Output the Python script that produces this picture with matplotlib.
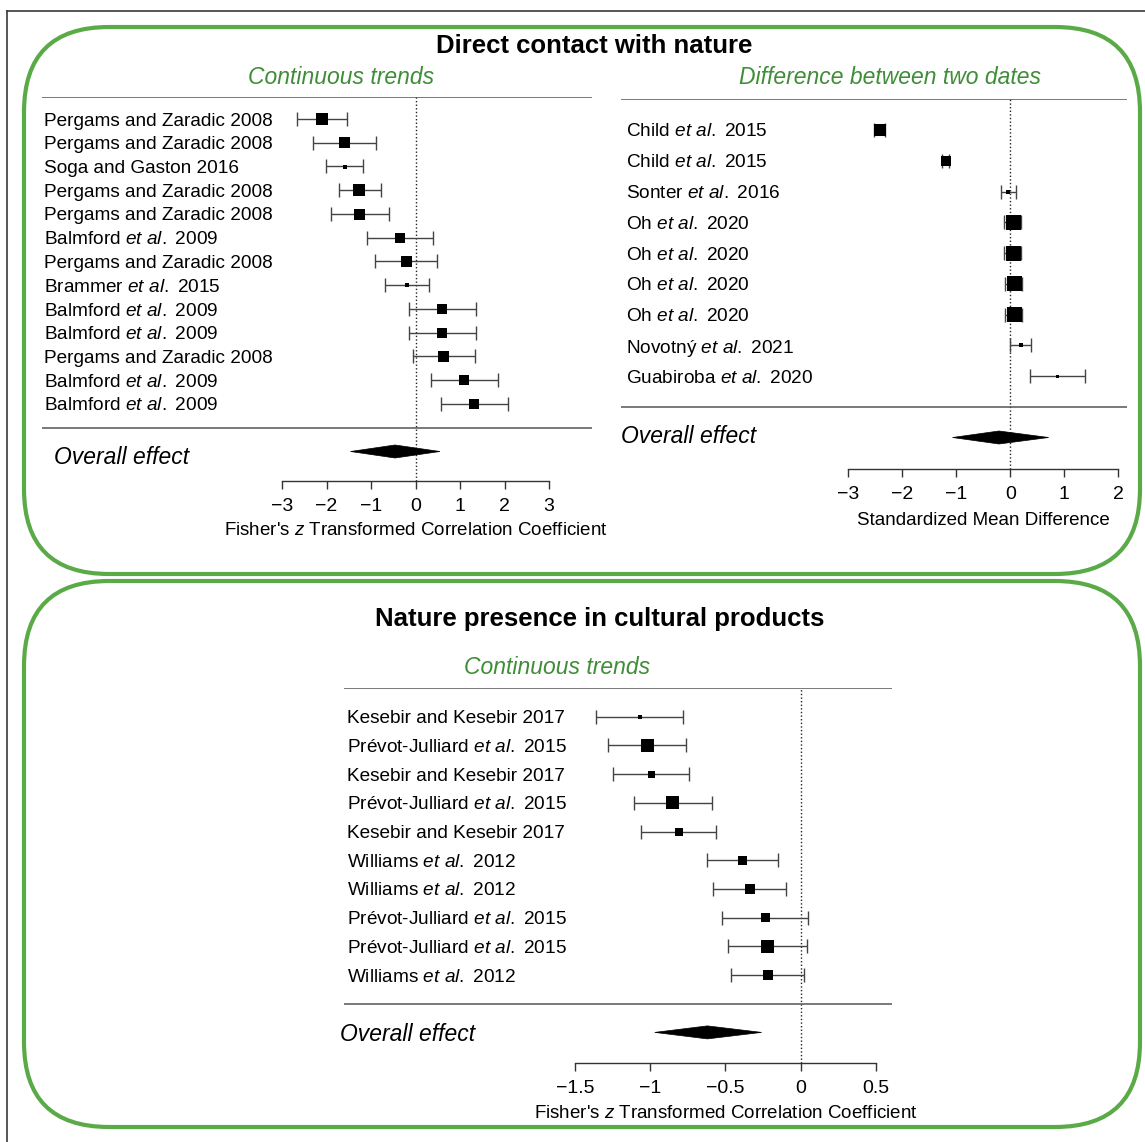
import matplotlib
matplotlib.use('Agg')
import matplotlib.pyplot as plt
import matplotlib.transforms as mtransforms
from matplotlib.patches import FancyBboxPatch, Polygon
import numpy as np

plt.rcParams['font.family'] = ['Liberation Sans', 'DejaVu Sans']
plt.rcParams['mathtext.fontset'] = 'custom'
plt.rcParams['mathtext.rm'] = 'Liberation Sans'
plt.rcParams['mathtext.it'] = 'Liberation Sans:italic'

ET = r'$\mathit{et\ al.}$'

# --- Direct contact with nature: continuous trends (Fisher's z) ---
labels_a = ['Pergams and Zaradic 2008', 'Pergams and Zaradic 2008', 'Soga and Gaston 2016',
            'Pergams and Zaradic 2008', 'Pergams and Zaradic 2008', f'Balmford {ET} 2009',
            'Pergams and Zaradic 2008', f'Brammer {ET} 2015', f'Balmford {ET} 2009',
            f'Balmford {ET} 2009', 'Pergams and Zaradic 2008', f'Balmford {ET} 2009',
            f'Balmford {ET} 2009']
est_a = [-2.11, -1.59, -1.59, -1.26, -1.26, -0.35, -0.21, -0.20, 0.60, 0.60, 0.64, 1.10, 1.32]
lo_a = [-2.67, -2.30, -2.01, -1.73, -1.91, -1.09, -0.91, -0.69, -0.14, -0.14, -0.06, 0.35, 0.57]
hi_a = [-1.53, -0.89, -1.17, -0.78, -0.60, 0.40, 0.49, 0.31, 1.36, 1.36, 1.34, 1.85, 2.07]
weight_a = [12, 11, 4, 12, 11, 10, 11, 4, 10, 10, 11, 10, 10]
overall_a = (-0.46, -1.46, 0.55)
ticks_a = [-3, -2, -1, 0, 1, 2, 3]

# --- Direct contact with nature: difference between two dates (SMD) ---
labels_b = [f'Child {ET} 2015', f'Child {ET} 2015', f'Sonter {ET} 2016', f'Oh {ET} 2020',
            f'Oh {ET} 2020', f'Oh {ET} 2020', f'Oh {ET} 2020', f'Novotný {ET} 2021',
            f'Guabiroba {ET} 2020']
est_b = [-2.42, -1.20, -0.04, 0.05, 0.05, 0.07, 0.07, 0.19, 0.87]
lo_b = [-2.52, -1.26, -0.17, -0.11, -0.11, -0.09, -0.09, 0.00, 0.36]
hi_b = [-2.32, -1.14, 0.10, 0.20, 0.20, 0.22, 0.22, 0.38, 1.38]
weight_b = [12, 10, 4, 15, 15, 15, 15, 4, 3]
overall_b = (-0.21, -1.07, 0.71)
ticks_b = [-3, -2, -1, 0, 1, 2]

# --- Nature presence in cultural products: continuous trends ---
labels_c = ['Kesebir and Kesebir 2017', f'Prévot-Julliard {ET} 2015', 'Kesebir and Kesebir 2017',
            f'Prévot-Julliard {ET} 2015', 'Kesebir and Kesebir 2017', f'Williams {ET} 2012',
            f'Williams {ET} 2012', f'Prévot-Julliard {ET} 2015', f'Prévot-Julliard {ET} 2015',
            f'Williams {ET} 2012']
est_c = [-1.07, -1.02, -0.99, -0.85, -0.81, -0.39, -0.34, -0.235, -0.22, -0.22]
lo_c = [-1.36, -1.28, -1.25, -1.11, -1.06, -0.62, -0.58, -0.52, -0.48, -0.46]
hi_c = [-0.78, -0.76, -0.74, -0.59, -0.56, -0.15, -0.10, 0.05, 0.04, 0.02]
weight_c = [4, 13, 7, 13, 8, 9, 10, 9, 13, 10]
overall_c = (-0.62, -0.97, -0.26)
ticks_c = [-1.5, -1, -0.5, 0, 0.5]
tick_labels_c = ['\u22121.5', '\u22121', '\u22120.5', '0', '0.5']

W, H = 1145, 1142
GREEN = '#5BAA48'
GREEN_TXT = '#3F8D38'
GREY = '#3a3a3a'

fig = plt.figure(figsize=(W / 100, H / 100), dpi=100)

# background layer in pixel coordinates for the frames and headings
bg = fig.add_axes([0, 0, 1, 1])
bg.set_xlim(0, W)
bg.set_ylim(H, 0)
bg.axis('off')
bg.plot([7, W], [11, 11], color=GREY, lw=1.2)
bg.plot([7, 7], [11, H], color=GREY, lw=1.2)
for (x0, y0, x1, y1) in [(24, 27, 1140, 574), (24, 581, 1140, 1127)]:
    bg.add_patch(FancyBboxPatch((x0, y0), x1 - x0, y1 - y0,
                                boxstyle='round,pad=0,rounding_size=85',
                                fc='none', ec=GREEN, lw=3))
bg.text(594, 46, 'Direct contact with nature', ha='center', va='center',
        fontsize=18.5, fontweight='bold')
bg.text(600, 619, 'Nature presence in cultural products', ha='center', va='center',
        fontsize=18.5, fontweight='bold')
bg.text(341, 77, 'Continuous trends', ha='center', va='center', fontsize=16.5,
        style='italic', color=GREEN_TXT)
bg.text(890, 77, 'Difference between two dates', ha='center', va='center', fontsize=16.5,
        style='italic', color=GREEN_TXT)
bg.text(557, 668, 'Continuous trends', ha='center', va='center', fontsize=16.5,
        style='italic', color=GREEN_TXT)


def px_axes(x0, y0, x1, y1):
    return fig.add_axes([x0 / W, 1 - y1 / H, (x1 - x0) / W, (y1 - y0) / H])


def forest(box, zero_px, unit_px, row1_px, step_px, labels, est, lo, hi, weight,
           overall, ticks, tick_labels, xlabel, label_x, overall_xy, xlabel_top_px):
    x0, y0, x1, y1 = box
    ax = px_axes(x0, y0, x1, y1)
    xlim = ((x0 - zero_px) / unit_px, (x1 - zero_px) / unit_px)
    ax.set_xlim(*xlim)
    ax.set_ylim(1 + (y1 - row1_px) / step_px, 1 - (row1_px - y0) / step_px)
    est, lo, hi = map(np.asarray, (est, lo, hi))
    n = len(est)
    rows = np.arange(1, n + 1)

    ax.errorbar(est, rows, xerr=[est - lo, hi - est], fmt='none', ecolor='#444444',
                elinewidth=1, capsize=5, capthick=1, zorder=2)
    ax.scatter(est, rows, s=(np.asarray(weight) * 0.72) ** 2, marker='s', c='black',
               linewidths=0, zorder=3)
    ax.axvline(0, color='#222222', lw=1, ls=(0, (1, 1.6)), zorder=1)
    ax.axhline(ax.get_ylim()[1], color='#555555', lw=1.1)
    ax.axhline(n + 1, color='#555555', lw=1.1)

    m, l, h = overall
    dh = 6.5 / step_px
    yo = n + 2
    ax.add_patch(Polygon([(l, yo), (m, yo - dh), (h, yo), (m, yo + dh)],
                         closed=True, fc='black', ec='black', lw=0.5, zorder=3))

    tr = mtransforms.blended_transform_factory(ax.transAxes, ax.transData)
    for r, lab in zip(rows, labels):
        ax.text(label_x, r, lab, transform=tr, ha='left', va='center_baseline',
                fontsize=13.7)
    ox, oy_px = overall_xy
    ax.text(ox, yo + oy_px / step_px, 'Overall effect', transform=tr, ha='left',
            va='center_baseline', fontsize=16.5, style='italic')

    for s in ['top', 'left', 'right']:
        ax.spines[s].set_visible(False)
    ax.spines['bottom'].set_bounds(ticks[0], ticks[-1])
    ax.spines['bottom'].set_color('#333333')
    ax.spines['bottom'].set_linewidth(1)
    ax.set_yticks([])
    ax.set_xticks(ticks)
    ax.set_xticklabels(tick_labels)
    ax.tick_params(axis='x', direction='out', length=6, width=1, color='#333333',
                   pad=6, labelsize=14)

    # axis title centred under the tick range, not the whole panel
    ax.set_xlabel(xlabel, fontsize=13.5)
    mid = (ticks[0] + ticks[-1]) / 2
    fx = (mid - xlim[0]) / (xlim[1] - xlim[0])
    fy = -(xlabel_top_px - y1) / (y1 - y0)
    ax.xaxis.set_label_coords(fx, fy)
    ax.xaxis.label.set_verticalalignment('top')
    ax.patch.set_alpha(0)
    return ax


fisher = "Fisher's $\\mathit{z}$ Transformed Correlation Coefficient"

forest((42, 97, 592, 481), 415.5, 44.5, 119, 23.75, labels_a, est_a, lo_a, hi_a,
       weight_a, overall_a, ticks_a, [str(t).replace('-', '\u2212') for t in ticks_a],
       fisher, 0.004, (0.022, 4), 522)

forest((621, 99, 1127, 469), 1010.3, 54.0, 130, 30.75, labels_b, est_b, lo_b, hi_b,
       weight_b, overall_b, ticks_b, [str(t).replace('-', '\u2212') for t in ticks_b],
       'Standardized Mean Difference', 0.01, (0.0, -4), 512)

forest((344, 688, 892, 1063), 800.7, 150.5, 716.7, 28.7, labels_c, est_c, lo_c, hi_c,
       weight_c, overall_c, ticks_c, tick_labels_c, fisher, 0.005, (-0.007, 0), 1105)

fig.savefig('out.png', dpi=100)
